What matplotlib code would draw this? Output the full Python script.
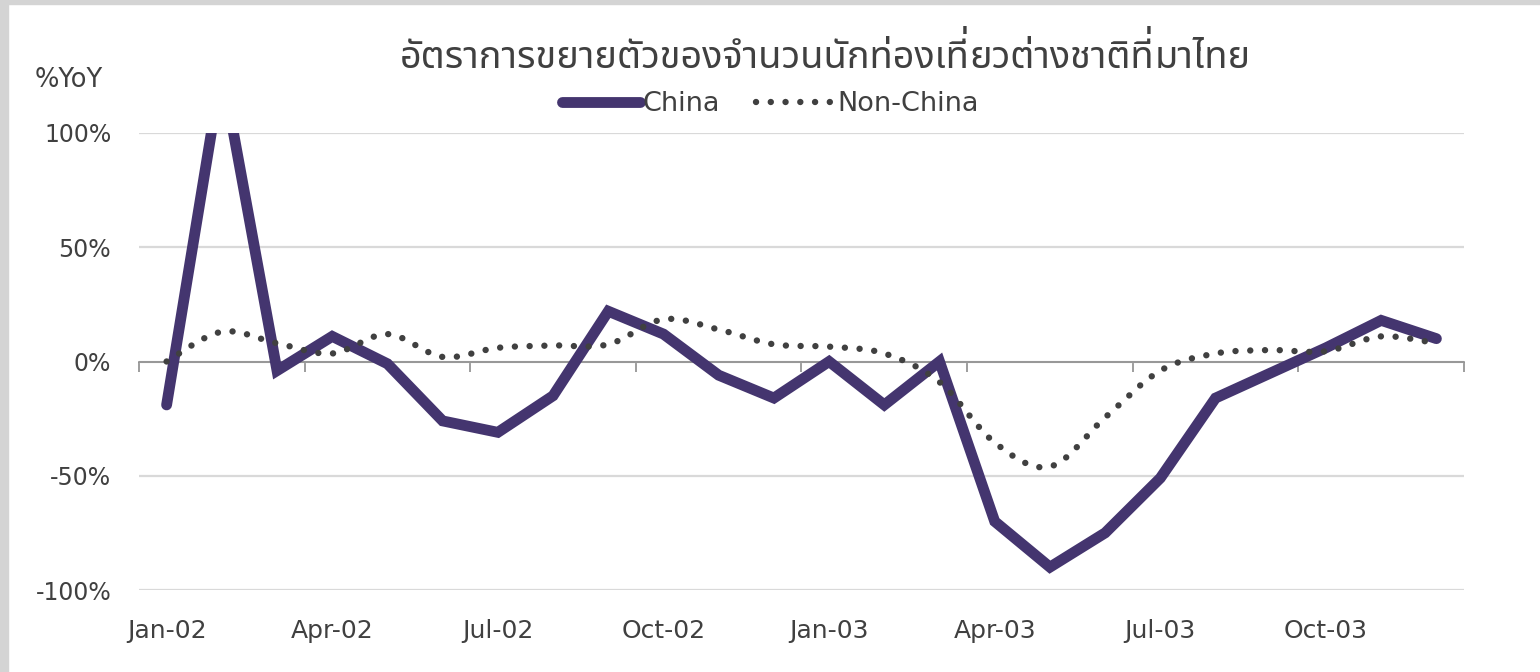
import matplotlib
matplotlib.use("Agg")
import matplotlib.pyplot as plt
from matplotlib import font_manager as fm
from matplotlib.ft2font import FT2Font
from matplotlib.path import Path
from matplotlib.patches import PathPatch, Rectangle
from matplotlib.lines import Line2D
import numpy as np

# ---------------- data ----------------
months = ["Jan-02", "Feb-02", "Mar-02", "Apr-02", "May-02", "Jun-02",
          "Jul-02", "Aug-02", "Sep-02", "Oct-02", "Nov-02", "Dec-02",
          "Jan-03", "Feb-03", "Mar-03", "Apr-03", "May-03", "Jun-03",
          "Jul-03", "Aug-03", "Sep-03", "Oct-03", "Nov-03", "Dec-03"]
china = [-19, 128, -4, 11, -1, -26, -31, -15, 22, 12, -6, -16,
         0, -19, 0, -70, -90, -75, -51, -16, -5, 6, 18, 10]
non_china = [0, 13, 8, 3.5, 12, 2, 6, 7, 7.5, 18.5, 14, 7.5,
             6.5, 3.5, -9, -35.5, -46, -24.5, -4, 3.5, 5, 4.5, 11, 8]
yticks = [-100, -50, 0, 50, 100]
ytick_labels = ["-100%", "-50%", "0%", "50%", "100%"]
title = "อัตราการขยายตัวของจำนวนนักท่องเที่ยวต่างชาติที่มาไทย"
ylabel = "%YoY"
series_names = ["China", "Non-China"]

# ---------------- fonts ----------------
thai_fonts = []
for f in fm.fontManager.ttflist:
    try:
        cm = FT2Font(f.fname).get_charmap()
    except Exception:
        continue
    if 0x0E2D in cm and 0x0E31 in cm and 0x0E40 in cm:
        thai_fonts.append(f.name)
thai_family = None
for cand in thai_fonts:
    if cand == "Noto Sans Thai":
        thai_family = cand
        break
if thai_family is None:
    for cand in thai_fonts:
        if "Looped" not in cand and "Thai" in cand and "Serif" not in cand:
            thai_family = cand
            break
if thai_family is None and thai_fonts:
    thai_family = thai_fonts[0]
title_fam = ([thai_family] if thai_family else []) + ["DejaVu Sans"]
plt.rcParams["font.family"] = ["DejaVu Sans"]

TXT = "#404040"
PURPLE = "#44356f"
DOTC = "#404040"

W, H = 1540, 672
fig = plt.figure(figsize=(W / 100, H / 100), dpi=100)
fig.patch.set_facecolor("white")

# grey frame strips on top & left
fig.patches.append(Rectangle((0, 1 - 4 / H), 1, 4 / H, transform=fig.transFigure,
                             color="#d4d4d4", zorder=0))
fig.patches.append(Rectangle((0, 0), 8 / W, 1, transform=fig.transFigure,
                             color="#d4d4d4", zorder=0))

left, right, top, bottom = 139, 1464, 133, 590
ax = fig.add_axes([left / W, (H - bottom) / H, (right - left) / W, (bottom - top) / H])
ax.set_facecolor("none")

n = len(months)
x = np.arange(n)
ax.set_xlim(-0.5, n - 0.5)
ax.set_ylim(-100, 100)

# gridlines / y axis
ax.set_yticks(yticks)
ax.set_yticklabels(ytick_labels, fontsize=17, color=TXT)
ax.yaxis.grid(True, color="#d9d9d9", linewidth=1.6, zorder=0)
ax.set_axisbelow(True)
ax.tick_params(axis="y", length=0, pad=20)
for s in ["left", "right", "top"]:
    ax.spines[s].set_visible(False)

# x-axis spine at zero with category-boundary ticks
ax.spines["bottom"].set_position(("data", 0))
ax.spines["bottom"].set_color("#8c8c8c")
ax.spines["bottom"].set_linewidth(1.2)
ax.spines["bottom"].set_zorder(1)
ax.set_xticks(np.arange(-0.5, n, 3))
ax.set_xticklabels([])
ax.tick_params(axis="x", direction="out", length=7, width=1.2, color="#8c8c8c")

# category labels on a secondary axis at the bottom
sec = ax.secondary_xaxis("bottom")
sec.set_xticks(x[::3])
sec.set_xticklabels(months[::3], fontsize=18, color=TXT)
sec.tick_params(axis="x", length=0, pad=21)
sec.spines["bottom"].set_visible(False)

# China line
ax.plot(x, china, color=PURPLE, linewidth=7.8, solid_capstyle="round",
        solid_joinstyle="miter", zorder=3, clip_on=True)

# Non-China smoothed dotted line (Catmull-Rom -> cubic Bezier path)
DOT_LW = 4.6
DOT_STYLE = (0, (0.01, 2.3))
pts = np.column_stack([x, non_china]).astype(float)
verts = [tuple(pts[0])]
codes = [Path.MOVETO]
for i in range(n - 1):
    p0 = pts[i - 1] if i > 0 else pts[i]
    p1 = pts[i]
    p2 = pts[i + 1]
    p3 = pts[i + 2] if i + 2 < n else pts[i + 1]
    c1 = p1 + (p2 - p0) / 6.0
    c2 = p2 - (p3 - p1) / 6.0
    verts += [tuple(c1), tuple(c2), tuple(p2)]
    codes += [Path.CURVE4] * 3
patch = PathPatch(Path(verts, codes), fill=False, edgecolor=DOTC, linewidth=DOT_LW,
                  linestyle=DOT_STYLE, capstyle="round", zorder=4)
ax.add_patch(patch)

# ---------------- title (Thai, with stacked tone marks) ----------------
TITLE_FS = 27.3
title_cx, title_cy = 825, 58          # pixel centre (from top-left)
renderer = fig.canvas.get_renderer()


def measure(s):
    t = fig.text(0, 0, s, fontsize=TITLE_FS, family=title_fam, va="baseline",
                 transform=None)
    bb = t.get_window_extent(renderer=renderer)
    t.remove()
    return bb


full_bb = measure(title)
x0 = title_cx - full_bb.width / 2.0
base_y = (H - title_cy) - ((full_bb.y0 + full_bb.y1) / 2.0)   # display coords

upper_vowels = set("\u0e31\u0e34\u0e35\u0e36\u0e37")
tone_marks = set("\u0e48\u0e49\u0e4a\u0e4b")
pieces = []          # (text, start_index, is_raised_mark)
start = 0
for i, ch in enumerate(title):
    if ch in tone_marks and i > 0 and title[i - 1] in upper_vowels:
        if i > start:
            pieces.append((title[start:i], start, False))
        pieces.append((ch, i, True))
        start = i + 1
if start < len(title):
    pieces.append((title[start:], start, False))

if len(pieces) == 1:
    fig.text(title_cx / W, 1 - title_cy / H, title, ha="center", va="center",
             fontsize=TITLE_FS, color=TXT, family=title_fam)
else:
    em = TITLE_FS * 100 / 72.0
    for txt, st, raised in pieces:
        prefix = title[:st]
        if raised:
            # right edge of the preceding stacked vowel
            xr = x0 + measure(prefix).width if prefix else x0
            fig.text(xr / W, (base_y + 0.26 * em) / H, txt, ha="right",
                     va="baseline", fontsize=TITLE_FS, color=TXT, family=title_fam)
        else:
            if prefix:
                clean_prefix = "".join(c for c in prefix)
                w_pc = measure(clean_prefix + txt[0]).width
                w_c = measure(txt[0]).width
                xl = x0 + w_pc - w_c
            else:
                xl = x0
            fig.text(xl / W, base_y / H, txt, ha="left", va="baseline",
                     fontsize=TITLE_FS, color=TXT, family=title_fam)

fig.text(35 / W, 1 - 80 / H, ylabel, ha="left", va="center", fontsize=18.5, color=TXT)

# legend
handles = [Line2D([], [], color=PURPLE, linewidth=7.8, solid_capstyle="round"),
           Line2D([], [], color=DOTC, linewidth=DOT_LW, linestyle=DOT_STYLE,
                  dash_capstyle="round")]
leg = fig.legend(handles, series_names, loc="center", ncol=2,
                 bbox_to_anchor=(770 / W, 1 - 104 / H), frameon=False,
                 fontsize=19.5, handlelength=2.9, handletextpad=0.08,
                 columnspacing=1.35, labelcolor=TXT)

fig.savefig("out.png", dpi=100, facecolor="white")
